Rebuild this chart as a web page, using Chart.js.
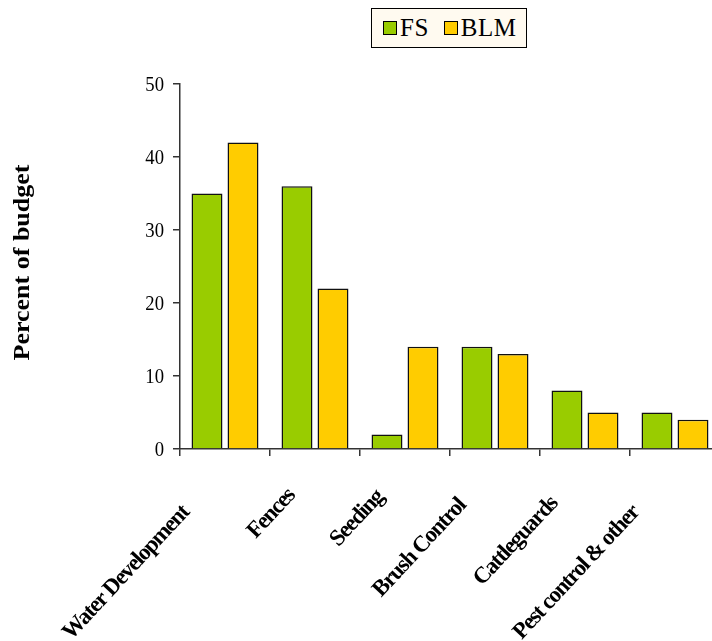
<!DOCTYPE html>
<html>
<head>
<meta charset="utf-8">
<script src="https://cdn.jsdelivr.net/npm/chart.js@4/dist/chart.umd.min.js"></script>
<style>
    html, body { margin: 0; padding: 0; background: #fff; overflow: hidden; }
    #wrap { position: relative; width: 730px; height: 641px; }
    #legend-div { position: absolute; left: 371px; top: 8px; width: 156px; height: 40px;
        background: #fffaf0; border: 1px solid #000; box-sizing: border-box;
        font-family: "Liberation Serif", "Times New Roman", serif; font-size: 25px; color: #000; }
    #legend-div ul { list-style: none; margin: 0; padding: 0 0 0 11px; display: flex; align-items: center; height: 100%; }
    #legend-div li { display: flex; align-items: center; margin-right: 15px; letter-spacing: 0.5px; }
    #legend-div span { display: inline-block; width: 12px; height: 12px; border: 1px solid #000; margin-right: 3px; }
</style>
</head>
<body>
<div id="wrap">
    <canvas id="barChartCanvas" width="730" height="641"></canvas>
    <div id="legend-div"></div>
</div>
<script>
let categories = ['Water Development', 'Fences', 'Seeding', 'Brush Control', 'Cattleguards', 'Pest control & other'];
let fsValues = [35, 36, 2, 14, 8, 5];
let blmValues = [42, 22, 14, 13, 5, 4];
let yTicks = [0, 10, 20, 30, 40, 50];

let colors = ['#99cc00', '#ffcc00'];
let serif = '"Liberation Serif", "Times New Roman", serif';

// the source text looks narrow, so numbers and title are squeezed a bit
let squeeze = 0.85;

// excel-style slanted category labels, long ones slide down along their slope
let slantLabels = {
    id: 'slantLabels',
    afterDraw: function (chart) {
        let ctx = chart.ctx;
        let x = chart.scales.x;
        let ang = 47 * Math.PI / 180;
        ctx.save();
        ctx.font = 'bold 23px ' + serif;
        ctx.letterSpacing = '-1.3px';
        ctx.fillStyle = '#000';
        ctx.textAlign = 'right';
        ctx.textBaseline = 'top';
        categories.forEach(function (label, i) {
            let cx = x.getPixelForValue(i);
            let shift = ctx.measureText(label).width * 0.2;
            ctx.save();
            ctx.translate(cx - 24 - shift * Math.cos(ang), x.top + 27 + shift * Math.sin(ang));
            ctx.rotate(-ang);
            ctx.fillText(label, 0, 0);
            ctx.restore();
        });
        ctx.restore();
    }
};

// y title and tick numbers
let yText = {
    id: 'yText',
    afterDraw: function (chart) {
        let ctx = chart.ctx;
        let y = chart.scales.y;
        ctx.save();
        ctx.fillStyle = '#000';
        ctx.font = '22px ' + serif;
        ctx.textAlign = 'right';
        ctx.textBaseline = 'middle';
        yTicks.forEach(function (v) {
            ctx.save();
            ctx.translate(y.right - 16, y.getPixelForValue(v) + 1);
            ctx.scale(squeeze, 1);
            ctx.fillText(String(v), 0, 0);
            ctx.restore();
        });
        ctx.font = 'bold 26px ' + serif;
        ctx.textAlign = 'center';
        ctx.save();
        ctx.translate(23, (y.top + y.bottom) / 2 - 4);
        ctx.scale(squeeze, 1);
        ctx.rotate(-Math.PI / 2);
        ctx.fillText('Percent of budget', 0, 0);
        ctx.restore();
        ctx.restore();
    }
};

let barChartDraw = function () {
    let ctx = document.getElementById('barChartCanvas').getContext('2d');

    window.barChart = new Chart(ctx, {
        type: 'bar',
        data: {
            labels: categories,
            datasets: [
                { label: 'FS', data: fsValues, backgroundColor: colors[0], borderColor: '#111', borderWidth: 1.5 },
                { label: 'BLM', data: blmValues, backgroundColor: colors[1], borderColor: '#111', borderWidth: 1.5 }
            ]
        },
        plugins: [slantLabels, yText],
        options: {
            responsive: false,
            animation: false,
            layout: { padding: { top: 84, right: 10, left: 0, bottom: 0 } },
            datasets: { bar: { categoryPercentage: 0.8, barPercentage: 0.86 } },
            plugins: { legend: { display: false }, tooltip: { enabled: false } },
            scales: {
                x: {
                    grid: { offset: true, drawOnChartArea: false, tickLength: 7, color: '#333', lineWidth: 1.5 },
                    border: { color: '#333', width: 1.5 },
                    ticks: { display: false },
                    afterFit: function (scale) { scale.height = 192; }
                },
                y: {
                    min: 0, max: 50,
                    afterBuildTicks: function (scale) { scale.ticks = yTicks.map(v => ({ value: v })); },
                    grid: { drawOnChartArea: false, tickLength: 7, color: '#333', lineWidth: 1.5 },
                    border: { color: '#333', width: 1.5 },
                    ticks: { display: false },
                    afterFit: function (scale) { scale.width = 180; }
                }
            }
        }
    });
};

let customLegend = function (chart) {
    let ul = document.createElement('ul');
    chart.data.datasets.forEach(function (ds) {
        ul.innerHTML += `<li><span style="background-color: ${ds.backgroundColor};"></span>${ds.label}</li>`;
    });
    return ul.outerHTML;
};

window.onload = function () {
    barChartDraw();
    document.getElementById('legend-div').innerHTML = customLegend(window.barChart);
};
</script>
</body>
</html>
